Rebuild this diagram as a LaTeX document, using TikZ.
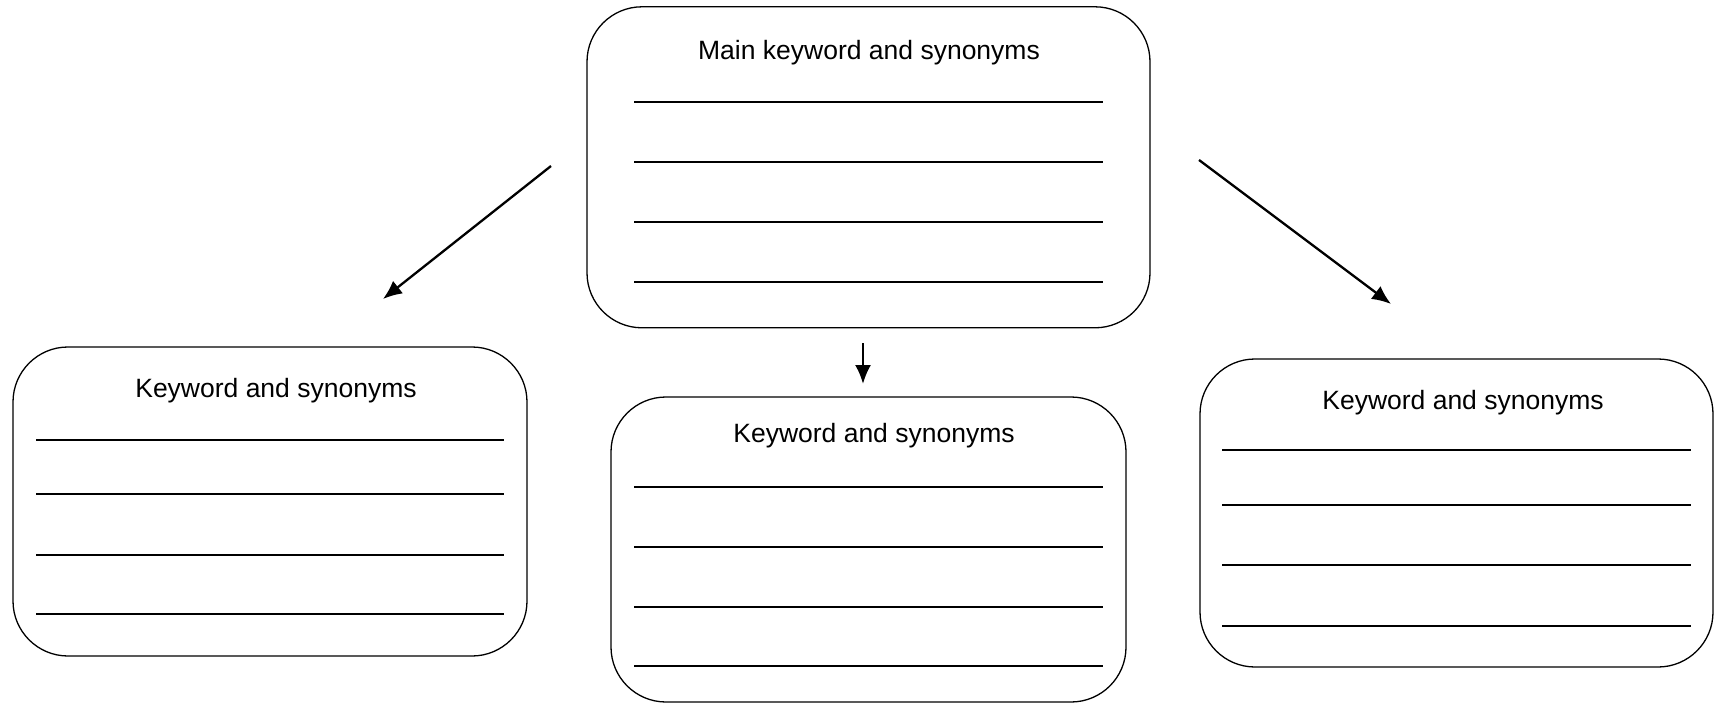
\documentclass[tikz,border=0pt]{standalone}
\usepackage{fontspec}
\setmainfont{Liberation Sans}
\usetikzlibrary{arrows.meta}
\begin{document}
\begin{tikzpicture}[x=1pt,y=-1pt,
  card/.style={draw=black,line width=1.3pt,rounded corners=55pt,inner sep=0pt},
  title/.style={font=\fontsize{26.5}{30}\selectfont,inner sep=0pt,anchor=center},
  rule/.style={line width=2pt},
  link/.style={line width=2.3pt,-{Latex[length=19pt,width=16pt]}}]
\useasboundingbox (0,0) rectangle (1715,703);
% boxes
\node[card,minimum width=563pt,minimum height=321pt] (main) at (868.5,167.3) {};
\node[card,minimum width=514pt,minimum height=309pt] (left) at (270,501.5) {};
\node[card,minimum width=515pt,minimum height=305pt] (mid) at (868.5,549.5) {};
\node[card,minimum width=513pt,minimum height=308pt] (right) at (1456.5,513) {};
% titles
\node[title] (tmain) at (869,53) {Main keyword and synonyms};
\node[title] (tleft) at (276,391) {Keyword and synonyms};
\node[title] (tmid) at (874,436) {Keyword and synonyms};
\node[title] (tright) at (1463,403) {Keyword and synonyms};
% writing lines
\foreach \y in {102,162,222,282} \draw[rule] (634,\y) -- (1103,\y);
\foreach \y in {440,494,555,614} \draw[rule] (36,\y) -- (504,\y);
\foreach \y in {487,547,607,666} \draw[rule] (634,\y) -- (1103,\y);
\foreach \y in {450,505,565,626} \draw[rule] (1222,\y) -- (1691,\y);
% arrows
\coordinate (a1s) at (551,166);
\coordinate (a1e) at (383,299);
\coordinate (a2s) at (863,343);
\coordinate (a2e) at (863,384);
\coordinate (a3s) at (1199,160);
\coordinate (a3e) at (1391,304);
\draw[link] (a1s) -- (a1e);
\draw[link] (a2s) -- (a2e);
\draw[link] (a3s) -- (a3e);
\end{tikzpicture}
\end{document}
